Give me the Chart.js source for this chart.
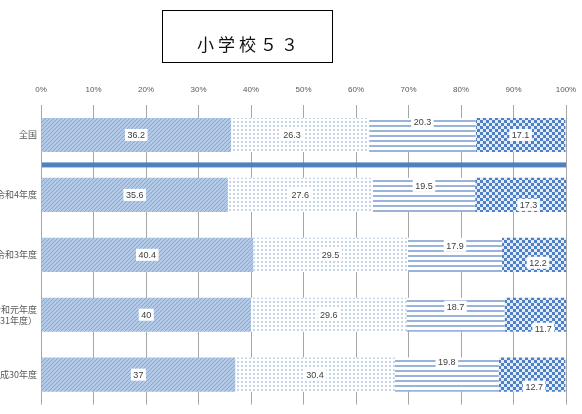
<!DOCTYPE html>
<html>
<head>
<meta charset="utf-8">
<script src="https://cdn.jsdelivr.net/npm/chart.js@4.4.1/dist/chart.umd.min.js"></script>
<style>
html, body { margin: 0; padding: 0; background: #fff; }
#wrap { position: relative; width: 582px; height: 414px; overflow: hidden; }
#title {
    position: absolute; left: 162px; top: 10px; width: 171px; height: 53px;
    border: 1px solid #000; box-sizing: border-box;
    font: 17px "Noto Sans CJK JP", sans-serif; letter-spacing: 4px;
    text-align: center; padding-top: 24px; padding-left: 4px; line-height: 18px; color: #111;
}
</style>
</head>
<body>
<div id="wrap">
    <canvas id="chart" width="582" height="414"></canvas>
    <div id="title">小学校５３</div>
</div>
<script>
const categories = ['全国', '令和4年度', '令和3年度', ['令和元年度', '（平成31年度）'], '平成30年度'];
const series1 = [36.2, 35.6, 40.4, 40, 37];
const series2 = [26.3, 27.6, 29.5, 29.6, 30.4];
const series3 = [20.3, 19.5, 17.9, 18.7, 19.8];
const series4 = [17.1, 17.3, 12.2, 11.7, 12.7];
const xTickLabels = ['0%', '10%', '20%', '30%', '40%', '50%', '60%', '70%', '80%', '90%', '100%'];

// patterns
function makePattern(w, h, draw) {
    const c = document.createElement('canvas');
    c.width = w;
    c.height = h;
    const g = c.getContext('2d');
    draw(g);
    return g.createPattern(c, 'repeat');
}

const hatch = makePattern(4, 4, g => {
    g.fillStyle = '#b2cae8';
    g.fillRect(0, 0, 4, 4);
    g.fillStyle = '#87a8d5';
    for (let i = 0; i < 4; i++) g.fillRect(i, 3 - i, 1, 1);
});
const dots = makePattern(4, 4, g => {
    g.fillStyle = '#ffffff';
    g.fillRect(0, 0, 4, 4);
    g.fillStyle = '#c6d5ea';
    g.fillRect(1, 1, 2, 2);
});
const stripes = makePattern(1, 5, g => {
    g.fillStyle = '#ffffff';
    g.fillRect(0, 0, 1, 5);
    g.fillStyle = '#9ab3db';
    g.fillRect(0, 0, 1, 2);
});
const checker = makePattern(6, 6, g => {
    g.fillStyle = '#e4ecf7';
    g.fillRect(0, 0, 6, 6);
    g.fillStyle = '#4f7fc4';
    g.fillRect(0, 0, 3, 3);
    g.fillRect(3, 3, 3, 3);
});

// thick blue line between 全国 and the years
const separator = {
    id: 'separator',
    afterDatasetsDraw(chart) {
        const ctx = chart.ctx;
        const x = chart.scales.x;
        const y = chart.scales.y;
        const py = (y.getPixelForValue(0) + y.getPixelForValue(1)) / 2;
        ctx.save();
        ctx.fillStyle = '#4f81bd';
        ctx.fillRect(x.left + 1, py - 2.5, x.right - x.left - 1, 5);
        ctx.restore();
    }
};

// value labels with white boxes
const segLabels = {
    id: 'segLabels',
    afterDatasetsDraw(chart, args, opts) {
        const ctx = chart.ctx;
        ctx.save();
        ctx.font = '9px "Liberation Sans", sans-serif';
        ctx.textAlign = 'center';
        ctx.textBaseline = 'middle';
        chart.data.datasets.forEach((ds, di) => {
            const meta = chart.getDatasetMeta(di);
            meta.data.forEach((bar, i) => {
                const txt = String(ds.data[i]);
                const p = bar.getProps(['x', 'y', 'base'], true);
                const cx = (p.x + p.base) / 2 + opts.dx[di][i];
                const cy = p.y + opts.dy[di][i];
                const w = ctx.measureText(txt).width + 5;
                ctx.fillStyle = '#ffffff';
                ctx.fillRect(cx - w / 2, cy - 6, w, 12);
                ctx.fillStyle = '#404040';
                ctx.fillText(txt, cx, cy + 0.5);
            });
        });
        ctx.restore();
    }
};

new Chart(document.getElementById('chart'), {
    type: 'bar',
    data: {
        labels: categories,
        datasets: [
            { label: '系列1', data: series1, backgroundColor: hatch },
            { label: '系列2', data: series2, backgroundColor: dots },
            { label: '系列3', data: series3, backgroundColor: stripes },
            { label: '系列4', data: series4, backgroundColor: checker }
        ]
    },
    options: {
        indexAxis: 'y',
        responsive: false,
        animation: false,
        layout: { padding: { top: 87, right: 16, bottom: 2, left: 0 } },
        datasets: { bar: { categoryPercentage: 1, barPercentage: 0.57 } },
        scales: {
            x: {
                position: 'top',
                stacked: true,
                min: 0,
                max: 100,
                afterFit: s => {
                    s.height = 18;
                    s.paddingLeft = 0;
                    s.paddingRight = 0;
                },
                afterBuildTicks: s => {
                    s.ticks = xTickLabels.map((t, i) => ({ value: i * 10 }));
                },
                ticks: {
                    padding: 10,
                    color: '#595959',
                    font: { family: 'Liberation Sans', size: 8 },
                    callback: (v, i) => xTickLabels[i]
                },
                grid: { color: '#a6a6a6', drawTicks: false },
                border: { display: false }
            },
            y: {
                stacked: true,
                afterFit: s => { s.width = 41; },
                ticks: {
                    padding: 4,
                    color: '#595959',
                    font: { family: 'Noto Sans CJK JP', size: 9 }
                },
                grid: { display: false, drawTicks: false },
                border: { display: false }
            }
        },
        plugins: {
            legend: { display: false },
            tooltip: { enabled: false },
            segLabels: {
                dx: [
                    [0, 0, 0, 0, 0],
                    [-8, 0, 0, 0, 0],
                    [0, 0, 0, 0, 0],
                    [0, 8, 4, 8, 2]
                ],
                dy: [
                    [0, 0, 0, 0, 0],
                    [0, 0, 0, 0, 0],
                    [-13, -9, -9, -8, -13],
                    [0, 10, 8, 14, 12]
                ]
            }
        }
    },
    plugins: [separator, segLabels]
});
</script>
</body>
</html>
